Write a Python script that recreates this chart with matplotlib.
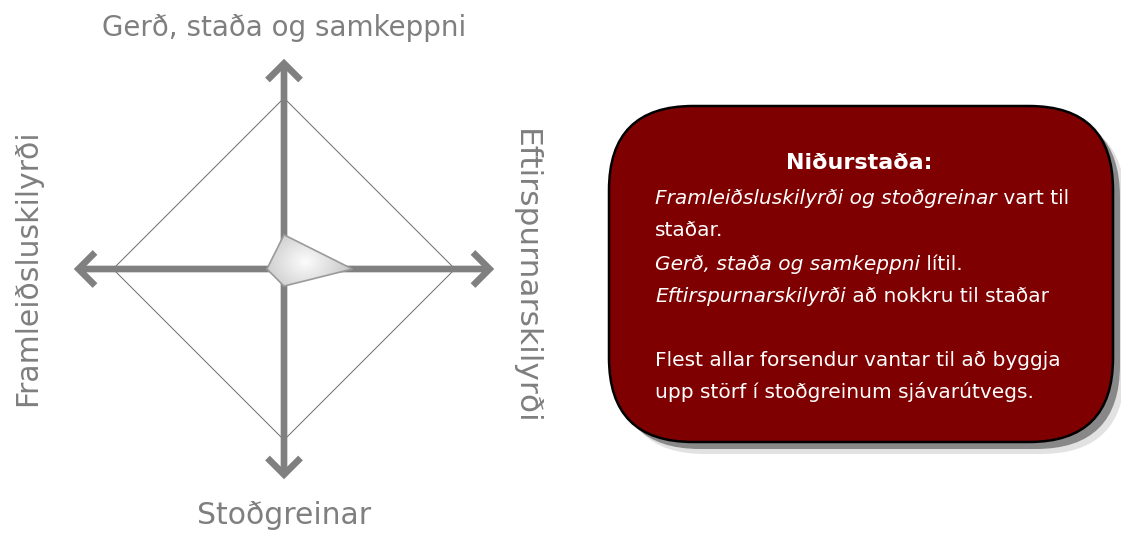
import numpy as np
import matplotlib
matplotlib.use("Agg")
import matplotlib.pyplot as plt
from matplotlib.patches import Polygon, FancyBboxPatch, FancyArrowPatch

# ---- data ----
axis_labels = ["Gerð, staða og samkeppni", "Eftirspurnarskilyrði", "Stoðgreinar", "Framleiðsluskilyrði"]
axis_values = [0.2, 0.4, 0.1, 0.1]   # fraction of full scale (top, right, bottom, left)
axis_dirs = [(0, -1), (1, 0), (0, 1), (-1, 0)]  # screen directions (y down)

box_title = "Niðurstaða:"
box_lines = [
    [("Framleiðsluskilyrði og stoðgreinar", "italic"), (" vart til", "normal")],
    [("staðar.", "normal")],
    [("Gerð, staða og samkeppni", "italic"), (" lítil.", "normal")],
    [("Eftirspurnarskilyrði", "italic"), (" að nokkru til staðar", "normal")],
    [],
    [("Flest allar forsendur vantar til að byggja", "normal")],
    [("upp störf í stoðgreinum sjávarútvegs.", "normal")],
]

W, H = 1121, 533
fig = plt.figure(figsize=(W / 100, H / 100), dpi=100)
ax = fig.add_axes([0, 0, 1, 1])
ax.set_xlim(0, W)
ax.set_ylim(H, 0)
ax.axis("off")

cx, cy = 284, 269
R = 171
arrow_len = 213
grey = "#808080"

# diamond outline
dpts = [(cx + dx * R, cy + dy * R) for dx, dy in axis_dirs]
ax.add_patch(Polygon(dpts, closed=True, fill=False, edgecolor="#6a6a6a", lw=0.7, zorder=2))

# axes arrows
for dx, dy in axis_dirs:
    ar = FancyArrowPatch((cx, cy), (cx + dx * arrow_len, cy + dy * arrow_len),
                         arrowstyle="->,head_length=0.85,head_width=0.85",
                         mutation_scale=14, lw=4.8, color=grey,
                         capstyle="butt", joinstyle="miter", zorder=3)
    ax.add_patch(ar)

# value polygon with radial gradient
vpts = [(cx + dx * R * v, cy + dy * R * v) for (dx, dy), v in zip(axis_dirs, axis_values)]
poly = Polygon(vpts, closed=True, facecolor="none", edgecolor="#9a9a9a", lw=1.2, zorder=5)
ax.add_patch(poly)
xs = [p[0] for p in vpts]; ys = [p[1] for p in vpts]
x0, x1, y0, y1 = min(xs) - 2, max(xs) + 2, min(ys) - 2, max(ys) + 2
gx, gy = np.meshgrid(np.linspace(x0, x1, 200), np.linspace(y0, y1, 200))
gcx, gcy = 305, 262
d = np.sqrt(((gx - gcx) / (x1 - x0) * 1.6) ** 2 + ((gy - gcy) / (y1 - y0) * 1.2) ** 2)
d = np.clip(d / d.max(), 0, 1)
vals = 0.99 - 0.28 * d
img = ax.imshow(np.dstack([vals, vals, vals]), extent=(x0, x1, y1, y0), zorder=4, interpolation="bilinear")
clip = Polygon(vpts, closed=True, transform=ax.transData)
img.set_clip_path(clip)
ax.set_xlim(0, W); ax.set_ylim(H, 0)

# axis labels
lab_kw = dict(color="#7f7f7f", family="DejaVu Sans")
ax.text(cx, 28, axis_labels[0], ha="center", va="center", fontsize=20, **lab_kw)
ax.text(525, 277, axis_labels[1], ha="center", va="center", rotation=-90, fontsize=22.5, **lab_kw)
ax.text(cx, 516, axis_labels[2], ha="center", va="center", fontsize=21.5, **lab_kw)
ax.text(28, 268, axis_labels[3], ha="center", va="center", rotation=90, fontsize=21.5, **lab_kw)

# result box with shadow
bx0, by0, bx1, by1 = 609, 106, 1113, 442
rad = 84
for off, col in [(12, "#e2e2e2"), (7, "#888888")]:
    ax.add_patch(FancyBboxPatch((bx0 + rad + off, by0 + rad + off), (bx1 - bx0) - 2 * rad, (by1 - by0) - 2 * rad,
                                boxstyle=f"round,pad={rad},rounding_size={rad}",
                                facecolor=col, edgecolor="none", zorder=6))
ax.add_patch(FancyBboxPatch((bx0 + rad, by0 + rad), (bx1 - bx0) - 2 * rad, (by1 - by0) - 2 * rad,
                            boxstyle=f"round,pad={rad},rounding_size={rad}",
                            facecolor="#7f0000", edgecolor="black", lw=1.8, zorder=7))

fs = 14.5
ax.text(859, 163, box_title, ha="center", va="center", color="white", fontsize=16,
        fontweight="bold", zorder=8)

renderer = fig.canvas.get_renderer()
tx0 = 655
line_y = [197, 229, 262, 294, 326, 358, 390]
for ly, pieces in zip(line_y, box_lines):
    x = tx0
    for txt, style in pieces:
        t = ax.text(x, ly, txt, ha="left", va="center_baseline", color="white", fontsize=fs,
                    fontstyle=style, zorder=8)
        bb = t.get_window_extent(renderer=renderer)
        x += bb.width

fig.savefig("out.png", dpi=100)
